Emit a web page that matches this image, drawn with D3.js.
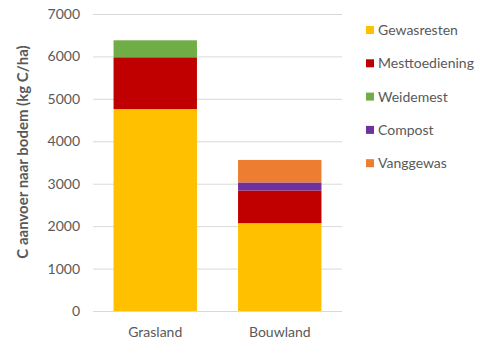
<!DOCTYPE html>
<html>
<head>
<meta charset="utf-8">
<script src="https://cdn.jsdelivr.net/npm/d3@7"></script>
<style>
body { margin: 0; background: #fff; }
text { font-family: Lato, "Open Sans", sans-serif; }
</style>
</head>
<body>
<div id="chart"></div>
<script>
// data
var categories = ["Grasland", "Bouwland"];
var seriesNames = ["Gewasresten", "Mesttoediening", "Weidemest", "Compost", "Vanggewas"];
var gewasresten = [4760, 2070];
var mesttoediening = [1220, 770];
var weidemest = [400, 0];
var compost = [0, 190];
var vanggewas = [0, 530];
var yTicks = [0, 1000, 2000, 3000, 4000, 5000, 6000, 7000];
var colors = ["#FFC000", "#C00000", "#70AD47", "#7030A0", "#ED7D31"];

var screen = {width: 490, height: 341};
var margins = {top: 14, left: 93, right: 148, bottom: 30};
var graph = {
    width: screen.width - margins.left - margins.right,
    height: screen.height - margins.top - margins.bottom
};

var table = categories.map(function(c, i) {
    return {
        cat: c,
        Gewasresten: gewasresten[i],
        Mesttoediening: mesttoediening[i],
        Weidemest: weidemest[i],
        Compost: compost[i],
        Vanggewas: vanggewas[i]
    };
});

var svg = d3.select("#chart")
    .append("svg")
    .attr("width", screen.width)
    .attr("height", screen.height);

var g = svg.append("g")
    .attr("transform", "translate(" + margins.left + "," + margins.top + ")");

var xScale = d3.scaleBand()
    .domain(categories)
    .range([0, graph.width])
    .paddingInner(0.33)
    .paddingOuter(0.165);

var yScale = d3.scaleLinear()
    .domain([0, 7000])
    .range([graph.height, 0]);

// gridlines + tick labels
var yAxis = d3.axisLeft(yScale)
    .tickValues(yTicks)
    .tickFormat(d3.format("d"))
    .tickSize(-graph.width)
    .tickPadding(13);

var ya = g.append("g").call(yAxis);
ya.select(".domain").remove();
ya.selectAll("line").attr("stroke", "#d9d9d9");
ya.selectAll("text")
    .attr("fill", "#595959")
    .style("font-size", "14px");

// stacked bars
var stack = d3.stack().keys(seriesNames);
var layers = stack(table);

g.selectAll(".layer")
    .data(layers)
    .enter()
    .append("g")
    .attr("fill", function(d, i) { return colors[i]; })
    .selectAll("rect")
    .data(function(d) { return d; })
    .enter()
    .append("rect")
    .attr("x", function(d) { return xScale(d.data.cat); })
    .attr("width", xScale.bandwidth())
    .attr("y", function(d) { return yScale(d[1]); })
    .attr("height", function(d) { return yScale(d[0]) - yScale(d[1]); });

// category labels
var xAxis = d3.axisBottom(xScale).tickSize(0).tickPadding(16);
var xa = g.append("g")
    .attr("transform", "translate(0," + graph.height + ")")
    .call(xAxis);
xa.select(".domain").remove();
xa.selectAll("text")
    .attr("fill", "#595959")
    .style("font-size", "14px");

// y axis title
svg.append("text")
    .attr("transform", "translate(23,152) rotate(-90)")
    .attr("text-anchor", "middle")
    .attr("dy", "0.35em")
    .attr("fill", "#595959")
    .style("font-size", "15px")
    .style("font-weight", "bold")
    .text("C aanvoer naar bodem (kg C/ha)");

// legend
var legend = svg.append("g")
    .attr("transform", "translate(366,30)");

var items = legend.selectAll("g")
    .data(seriesNames)
    .enter()
    .append("g")
    .attr("transform", function(d, i) { return "translate(0," + (i * 33.3) + ")"; });

items.append("rect")
    .attr("x", 0)
    .attr("y", -4)
    .attr("width", 8)
    .attr("height", 8)
    .attr("fill", function(d, i) { return colors[i]; });

items.append("text")
    .attr("x", 12)
    .attr("y", 0)
    .attr("dy", "0.35em")
    .attr("fill", "#595959")
    .style("font-size", "14px")
    .text(function(d) { return d; });
</script>
</body>
</html>
